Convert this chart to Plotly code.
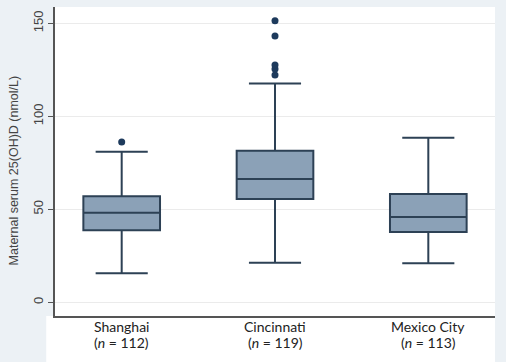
import plotly.graph_objects as go

categories = ["Shanghai", "Cincinnati", "Mexico City"]
n_values = [112, 119, 113]
q1 = [38.7, 55.5, 37.8]
median = [48.2, 66.3, 45.9]
q3 = [57.0, 81.5, 58.2]
lower_whisker = [15.6, 21.3, 21.0]
upper_whisker = [81.0, 117.7, 88.5]
outliers = [[86.2], [122.2, 125.5, 127.6, 143.2, 151.4], []]
y_ticks = [0, 50, 100, 150]
y_title = "Maternal serum 25(OH)D (nmol/L)"

fill_color = "#8ba1b7"
line_color = "#2d4155"
dot_color = "#1d3a5c"

fig = go.Figure()
for i, cat in enumerate(categories):
    fig.add_trace(go.Box(
        x=[i], q1=[q1[i]], median=[median[i]], q3=[q3[i]],
        lowerfence=[lower_whisker[i]], upperfence=[upper_whisker[i]],
        width=0.5, whiskerwidth=0.68,
        fillcolor=fill_color, line=dict(color=line_color, width=2),
        boxpoints=False, showlegend=False, name=cat,
    ))
    if outliers[i]:
        fig.add_trace(go.Scatter(
            x=[i] * len(outliers[i]), y=outliers[i], mode="markers",
            marker=dict(color=dot_color, size=7), showlegend=False,
        ))

label_font = dict(family="Lato, Open Sans, sans-serif", size=14, color="#222222")
annotations = []
for i, (c, n) in enumerate(zip(categories, n_values)):
    annotations.append(dict(x=i, y=-0.035, xref="x", yref="paper", text=c,
                            showarrow=False, yanchor="middle", font=label_font))
    annotations.append(dict(x=i, y=-0.085, xref="x", yref="paper",
                            text=f"(<i>n</i> = {n})",
                            showarrow=False, yanchor="middle", font=label_font))
annotations.append(dict(x=-41, xref="x domain", xshift=0, y=0.471, yref="paper",
                        text=y_title, textangle=-90, showarrow=False,
                        xanchor="center", yanchor="middle",
                        font=dict(size=12.5, color="#444444")))
# place title by pixel offset from the plot's left edge
annotations[-1].update(x=0, xref="paper", xshift=-41)

fig.update_layout(
    width=506, height=362,
    margin=dict(l=55, r=11, t=7, b=46, autoexpand=False),
    paper_bgcolor="#ecf1f5", plot_bgcolor="#ffffff",
    font=dict(family="Liberation Sans, Arial, sans-serif", color="#333333"),
    annotations=annotations,
    shapes=[dict(type="rect", xref="paper", yref="paper",
                 x0=-0.02, x1=1.0, y0=-0.16, y1=0,
                 fillcolor="#ffffff", line=dict(width=0), layer="below")],
)
fig.update_xaxes(
    range=[-0.435, 2.435], tickvals=[0, 1, 2], showticklabels=False,
    showgrid=False, zeroline=False, showline=True, linecolor="#555555", linewidth=2,
    ticks="", automargin=False,
)
fig.update_yaxes(
    range=[-7.4, 158.8], tickvals=y_ticks, tickangle=-90,
    showgrid=True, gridcolor="#ebebeb", gridwidth=1, zeroline=False,
    showline=True, linecolor="#555555", linewidth=1.5,
    ticks="outside", ticklen=5, tickcolor="#555555",
    tickfont=dict(size=13, color="#444444"), automargin=False,
)

fig.write_html("out.html", config={"displayModeBar": False},
               post_script="document.body.style.margin='0';")
